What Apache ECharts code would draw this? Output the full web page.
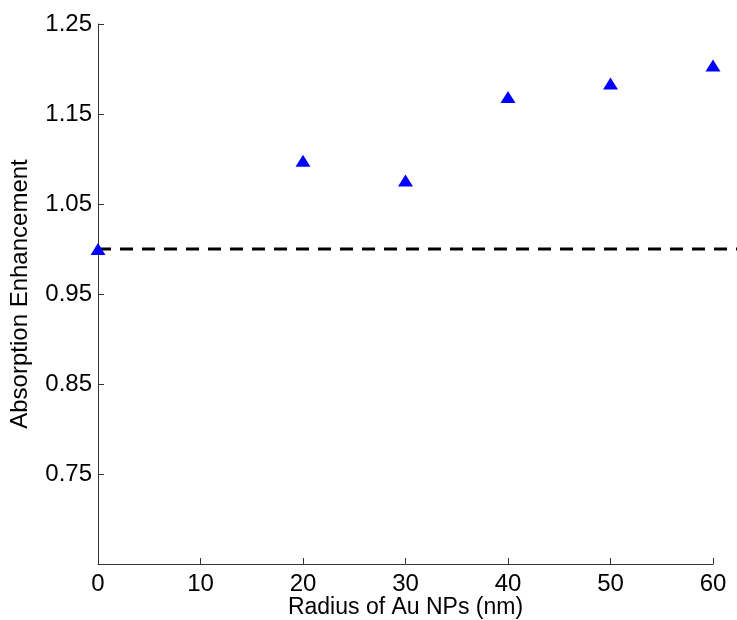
<!DOCTYPE html>
<html>
<head>
    <meta charset="UTF-8">
    <title>Absorption Enhancement</title>
    <script src="https://cdn.jsdelivr.net/npm/echarts@6/dist/echarts.min.js"></script>
    <style>
        html, body { margin: 0; padding: 0; background: #fff; }
        #main { width: 737px; height: 620px; }
    </style>
</head>
<body>
<div id="main"></div>
<script type="text/javascript">
    // data
    var radius = [0, 20, 30, 40, 50, 60];
    var enhancement = [1.0, 1.098, 1.076, 1.169, 1.184, 1.204];
    var refX = [0, 62.34];
    var refY = [1.0, 1.0];
    var yTicks = ['0.75', '0.85', '0.95', '1.05', '1.15', '1.25'];

    var points = radius.map(function (r, i) { return [r, enhancement[i]]; });
    var refLine = refX.map(function (x, i) { return [x, refY[i]]; });

    var font = 'Liberation Sans, Arial, sans-serif';
    var axisCol = '#333333';

    var chart = echarts.init(document.getElementById('main'));
    var option = {
        animation: false,
        grid: [
            { left: 98, right: 24, top: 24, bottom: 56, containLabel: false, outerBoundsMode: 'none' },
            // wider grid so the dashed reference line runs to the right edge
            { left: 98, right: 0, top: 24, bottom: 56, containLabel: false, outerBoundsMode: 'none' }
        ],
        xAxis: [{
            type: 'value',
            gridIndex: 0,
            min: 0, max: 60, interval: 10,
            name: 'Radius of Au NPs (nm)',
            nameLocation: 'middle',
            nameGap: 32,
            nameMoveOverlap: false,
            nameTextStyle: { fontFamily: font, fontSize: 23, color: '#000' },
            axisLine: { lineStyle: { color: axisCol, width: 1 } },
            axisTick: { inside: true, length: 6, lineStyle: { color: axisCol } },
            axisLabel: { fontFamily: font, fontSize: 24, color: '#000', margin: 8 },
            splitLine: { show: false }
        }, {
            type: 'value',
            gridIndex: 1,
            min: 0, max: 62.34,
            show: false
        }],
        yAxis: [{
            type: 'value',
            gridIndex: 0,
            min: 0.65, max: 1.25, interval: 0.1,
            name: 'Absorption Enhancement',
            nameLocation: 'middle',
            nameGap: 66,
            nameTextStyle: { fontFamily: font, fontSize: 24, color: '#000' },
            axisLine: { show: true, lineStyle: { color: axisCol, width: 1 } },
            axisTick: { show: true, inside: true, length: 6, lineStyle: { color: axisCol } },
            axisLabel: {
                fontFamily: font, fontSize: 24, color: '#000', margin: 6,
                formatter: function (v) {
                    var s = v.toFixed(2);
                    return yTicks.indexOf(s) >= 0 ? s : '';
                }
            },
            splitLine: { show: false }
        }, {
            type: 'value',
            gridIndex: 1,
            min: 0.65, max: 1.25,
            show: false
        }],
        series: [
            {
                type: 'line',
                xAxisIndex: 1,
                yAxisIndex: 1,
                data: refLine,
                symbol: 'none',
                lineStyle: { color: '#000', width: 3, type: [13, 9], opacity: 1 },
                z: 2
            },
            {
                type: 'scatter',
                xAxisIndex: 0,
                yAxisIndex: 0,
                data: points,
                symbol: 'triangle',
                symbolSize: [15, 12],
                itemStyle: { color: '#0000ff', opacity: 1 },
                clip: false,
                z: 3
            }
        ]
    };
    chart.setOption(option);
</script>
</body>
</html>
